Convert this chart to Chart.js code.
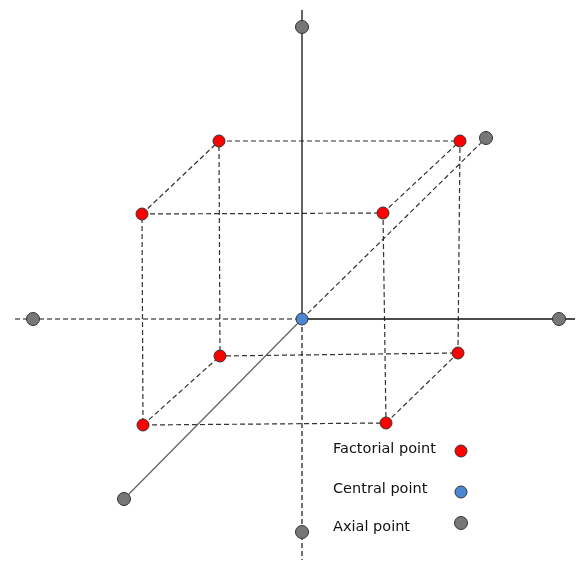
<!DOCTYPE html>
<html lang="en">
<head>
    <meta charset="UTF-8">
    <title>Central composite design</title>
    <style>
        body { margin: 0; background: #fff; }
        #ccd { display: block; }
    </style>
</head>
<body>
    <canvas id="ccd" width="585" height="567"></canvas>
    <script src="https://cdn.jsdelivr.net/npm/chart.js"></script>
    <script>
        // diagram coordinates (x right, y down)
        const center = [{x: 302, y: 319}];
        const axialPoints = [
            {x: 302, y: 27}, {x: 302, y: 532}, {x: 33, y: 319},
            {x: 559, y: 319}, {x: 486, y: 138}, {x: 124, y: 499}
        ];
        const frontFace = [
            {x: 142, y: 214}, {x: 383, y: 213}, {x: 386, y: 423}, {x: 143, y: 425}
        ];
        const backFace = [
            {x: 219, y: 141}, {x: 460, y: 141}, {x: 458, y: 353}, {x: 220, y: 356}
        ];
        const axisEnds = {top: 10, bottom: 560, left: 15, right: 575};
        const legendLabels = ['Factorial point', 'Central point', 'Axial point'];
        const legendMarks = [{x: 461, y: 451}, {x: 461, y: 492}, {x: 461, y: 523}];
        const legendTextX = 333;
        const legendTextY = [449, 489, 527];

        const red = '#ff0000', blue = '#4a86d2', grey = '#777777';

        function line(pts, color, dash, w) {
            return {
                data: pts, showLine: true, pointRadius: 0, borderColor: color,
                borderWidth: w || 1.2, borderDash: dash, fill: false, order: 2
            };
        }
        function dots(pts, color, r) {
            return {
                data: pts, showLine: false, pointRadius: r, pointHoverRadius: r,
                backgroundColor: color, borderColor: '#333', borderWidth: 1, order: 1
            };
        }

        const c = center[0];
        const dash = [5, 3];
        const datasets = [
            // axes
            line([{x: c.x, y: axisEnds.top}, c], '#111', [], 1.3),
            line([c, {x: c.x, y: axisEnds.bottom}], '#111', dash),
            line([{x: axisEnds.left, y: c.y}, c], '#111', dash),
            line([c, {x: axisEnds.right, y: c.y}], '#111', [], 1.3),
            line([axialPoints[5], c], '#666', [], 1.3),
            line([c, {x: 490, y: 134}], '#333', dash),
            // cube
            line([...frontFace, frontFace[0]], '#333', dash),
            line([...backFace, backFace[0]], '#333', dash),
        ];
        for (let i = 0; i < 4; i++) {
            datasets.push(line([frontFace[i], backFace[i]], '#333', dash));
        }
        datasets.push(dots([...frontFace, ...backFace, legendMarks[0]], red, 6));
        datasets.push(dots([...center, legendMarks[1]], blue, 6));
        datasets.push(dots([...axialPoints, legendMarks[2]], grey, 6.5));

        const legendText = {
            id: 'legendText',
            afterDatasetsDraw(chart) {
                const ctx = chart.ctx;
                const xs = chart.scales.x, ys = chart.scales.y;
                ctx.save();
                ctx.fillStyle = '#111';
                ctx.font = '14.5px "DejaVu Sans", sans-serif';
                ctx.textBaseline = 'middle';
                legendLabels.forEach((t, i) => {
                    ctx.fillText(t, xs.getPixelForValue(legendTextX), ys.getPixelForValue(legendTextY[i]));
                });
                ctx.restore();
            }
        };

        new Chart(document.getElementById('ccd'), {
            type: 'scatter',
            data: {datasets},
            options: {
                responsive: false,
                animation: false,
                layout: {padding: 0, autoPadding: false},
                plugins: {legend: {display: false}, tooltip: {enabled: false}},
                scales: {
                    x: {type: 'linear', min: 0, max: 585, display: false},
                    y: {type: 'linear', min: 0, max: 567, reverse: true, display: false}
                }
            },
            plugins: [legendText]
        });
    </script>
</body>
</html>
